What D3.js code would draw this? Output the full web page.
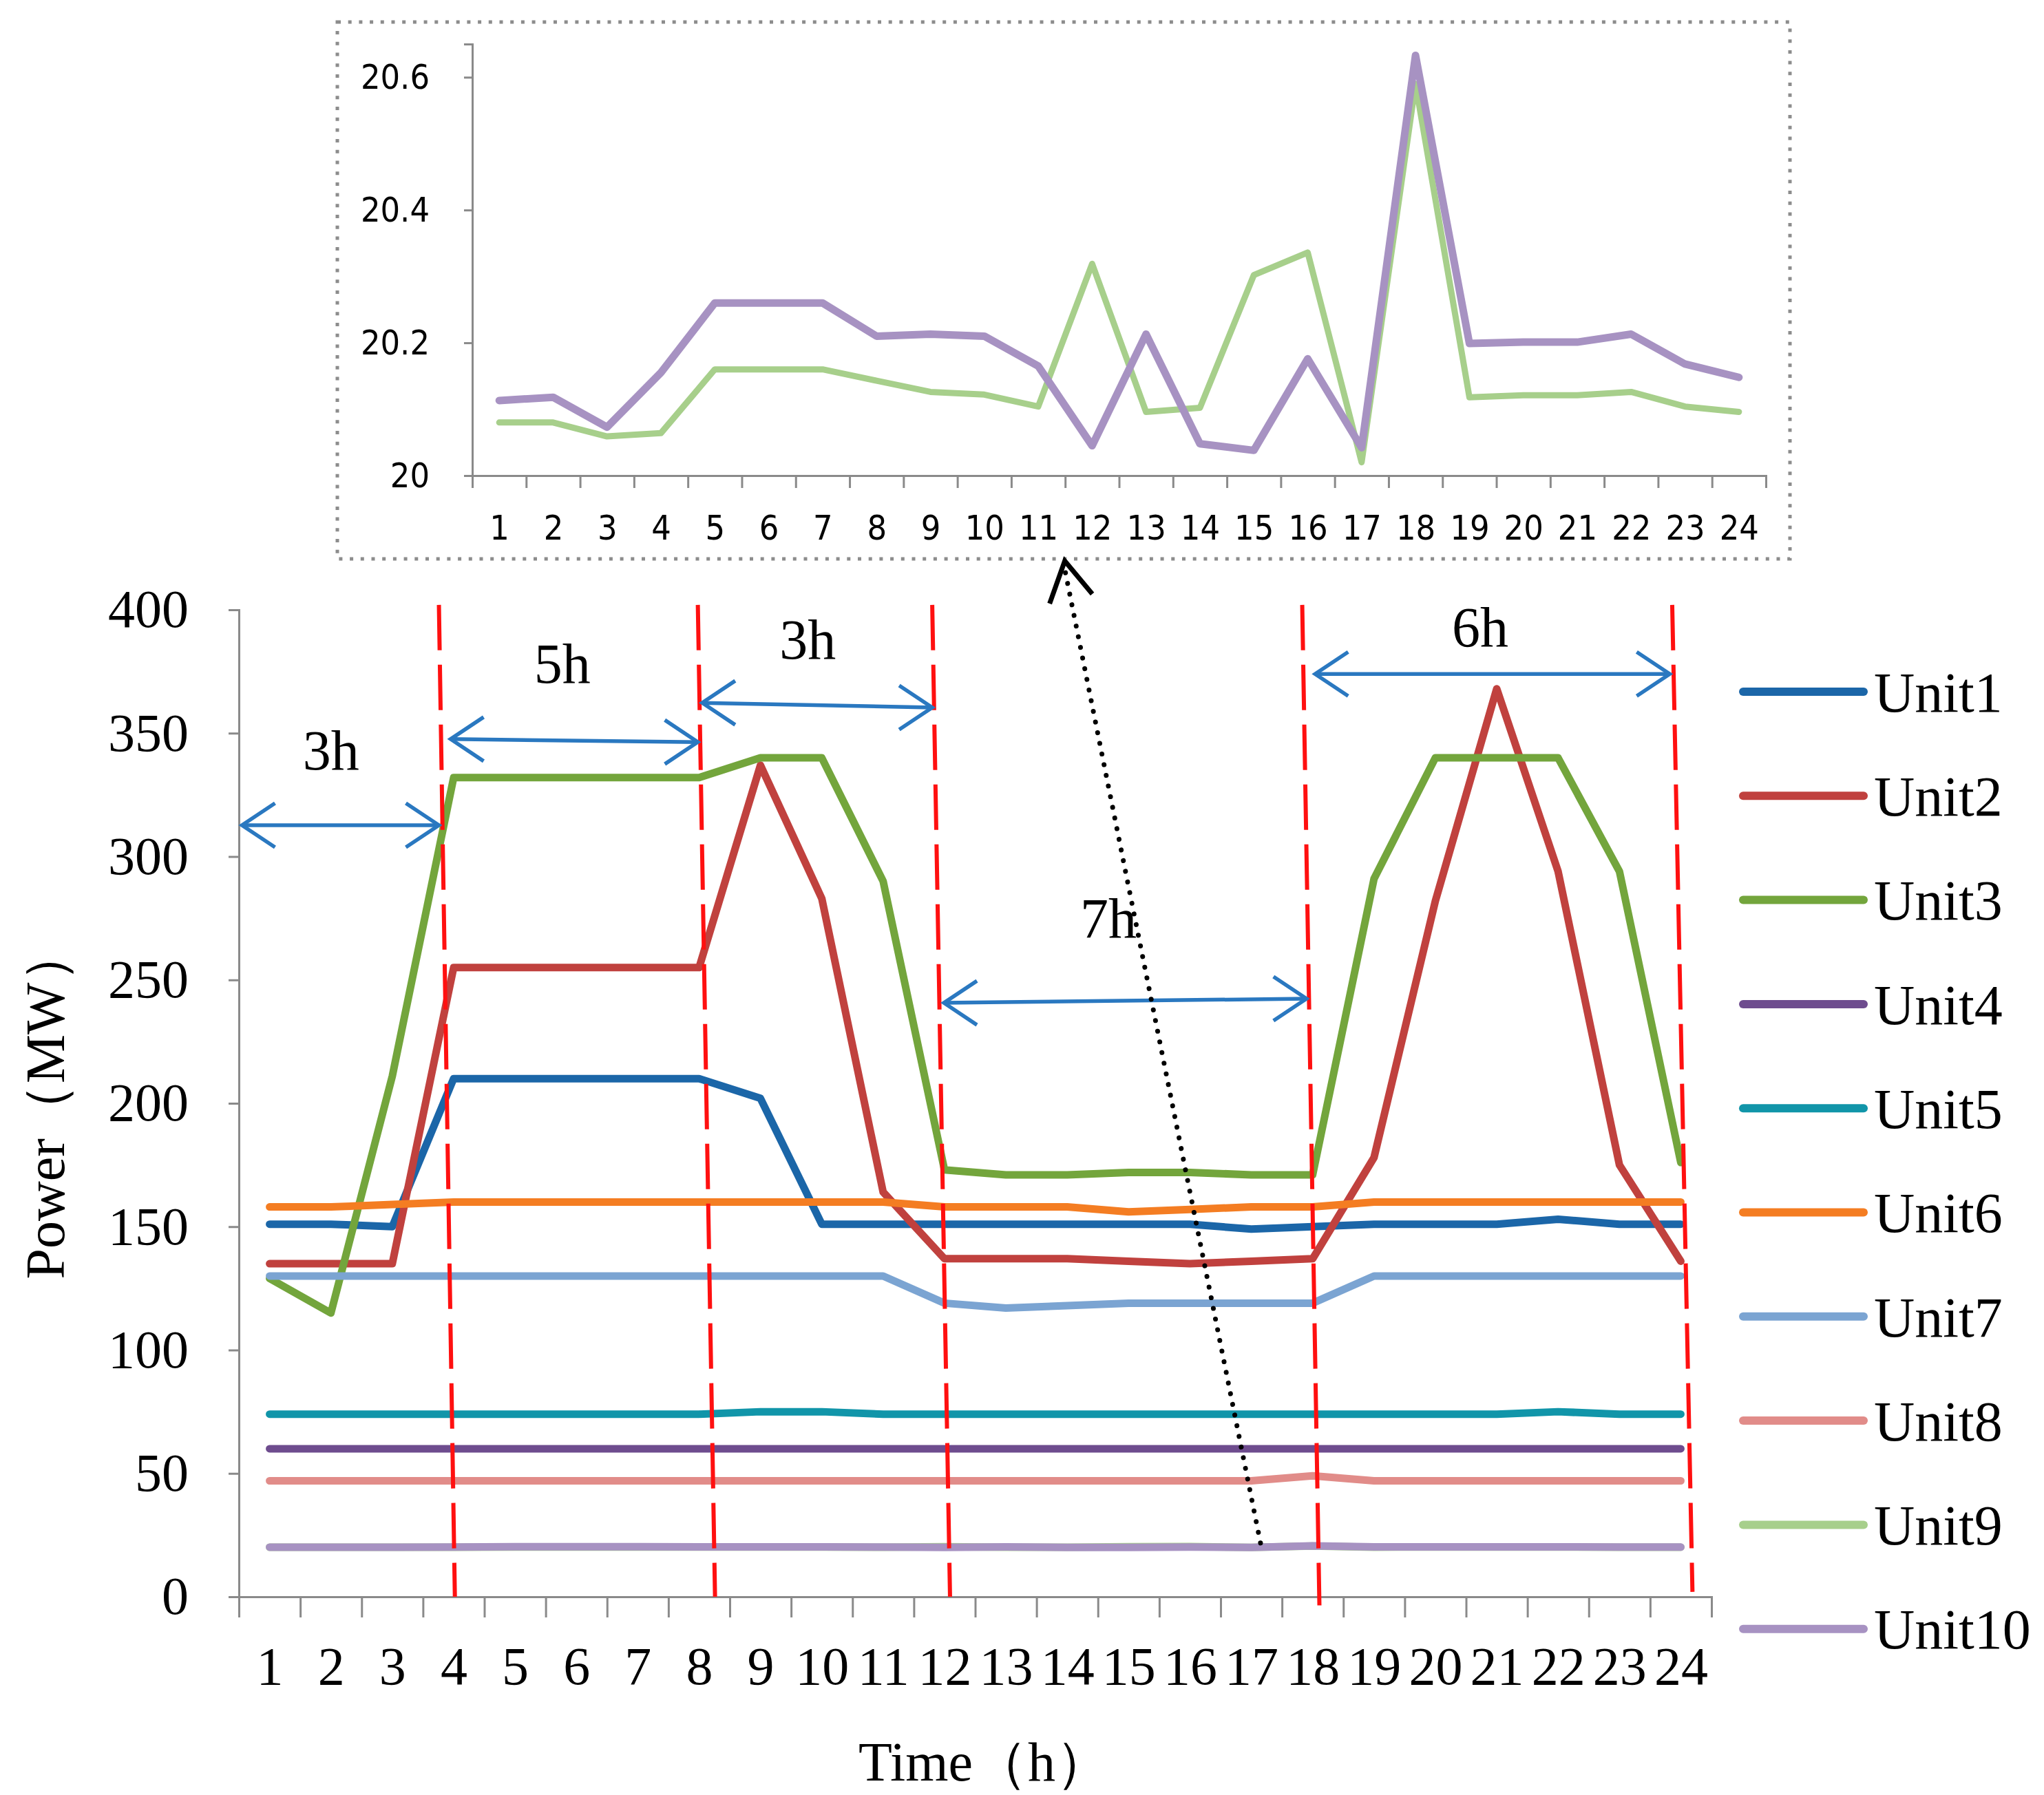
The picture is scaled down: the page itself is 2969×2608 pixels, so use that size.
<!DOCTYPE html>
<html>
<head>
<meta charset="utf-8">
<script src="https://cdn.jsdelivr.net/npm/d3@7/dist/d3.min.js"></script>
<style>
  html, body { margin: 0; padding: 0; background: #fff; }
  svg { display: block; }
</style>
</head>
<body>
<svg id="chart" width="2969" height="2608"></svg>
<script>
// hours on the x axis
var hours = [1,2,3,4,5,6,7,8,9,10,11,12,13,14,15,16,17,18,19,20,21,22,23,24];

// unit outputs in MW
var unit1 = [151,151,150,210,210,210,210,210,202,151,151,151,151,151,151,151,149,150,151,151,151,153,151,151];
var unit2 = [135,135,135,255,255,255,255,255,337,283,164,137,137,137,136,135,136,137,178,282,368,294,175,136];
var unit3 = [129,115,211,332,332,332,332,332,340,340,290,173,171,171,172,172,171,171,291,340,340,340,294,176];
var unit4 = [60,60,60,60,60,60,60,60,60,60,60,60,60,60,60,60,60,60,60,60,60,60,60,60];
var unit5 = [74,74,74,74,74,74,74,74,75,75,74,74,74,74,74,74,74,74,74,74,74,75,74,74];
var unit6 = [158,158,159,160,160,160,160,160,160,160,160,158,158,158,156,157,158,158,160,160,160,160,160,160];
var unit7 = [130,130,130,130,130,130,130,130,130,130,130,119,117,118,119,119,119,119,130,130,130,130,130,130];
var unit8 = [47,47,47,47,47,47,47,47,47,47,47,47,47,47,47,47,47,49,47,47,47,47,47,47];
var unit9 = [20.080,20.080,20.059,20.064,20.160,20.160,20.160,20.143,20.126,20.122,20.104,20.319,20.096,20.102,20.302,20.336,20.020,20.590,20.118,20.121,20.121,20.126,20.104,20.096];
var unit10 = [20.113,20.118,20.073,20.155,20.260,20.260,20.260,20.210,20.213,20.210,20.165,20.045,20.213,20.048,20.038,20.176,20.042,20.633,20.199,20.201,20.201,20.213,20.168,20.148];

var unitNames = ["Unit1","Unit2","Unit3","Unit4","Unit5","Unit6","Unit7","Unit8","Unit9","Unit10"];
var unitColors = ["#1b66a8","#c0413e","#73a53c","#6e4c8e","#1195a9","#f47d22","#7ba4d2","#e18c89","#a7cf8b","#a792c2"];
var powerTicks = [0,50,100,150,200,250,300,350,400];
var insetTicks = [20,20.2,20.4,20.6];

// red dashed boundaries (hour at top, hour at bottom, MW at bottom)
var cuts = [[3.76,4.02,0],[7.98,8.26,0],[11.80,12.09,0],[17.83,18.11,-3.5],[23.86,24.19,2]];
// duration arrows: from hour, to hour, MW at start, MW at end, label, label hour, label MW
var spans = [
  [0.55,3.76,312.7,312.7,"3h",2.0,343],
  [3.95,7.98,347.6,346.4,"5h",5.77,378],
  [8.05,11.80,362.3,360.4,"3h",9.77,388],
  [11.99,17.90,240.7,242.4,"7h",14.67,275],
  [18.04,23.82,374,374,"6h",20.73,393]
];

var series = [unit1,unit2,unit3,unit4,unit5,unit6,unit7,unit8,unit9,unit10];

var svg = d3.select("#chart");
svg.append("rect").attr("width",2969).attr("height",2608).attr("fill","#fff");

var serif = "'Liberation Serif','Times New Roman',serif";
var narrow = "'Liberation Sans Narrow','Arial Narrow','DejaVu Sans Condensed',sans-serif";
var axisGray = "#8a8a8a";

// ---------- main chart ----------
var x = d3.scaleLinear().domain([0.5,24.5]).range([347,2486]);
var y = d3.scaleLinear().domain([0,400]).range([2320,886]);

var line = d3.line()
  .x(function(d,i) { return x(hours[i]); })
  .y(function(d) { return y(d); });

// y axis
var yAxis = svg.append("g")
  .attr("transform","translate(" + x(0.5) + ",0)")
  .call(d3.axisLeft(y).tickValues(powerTicks).tickSize(15).tickPadding(58));
yAxis.selectAll("text").attr("font-family",serif).attr("font-size",78).attr("fill","#000");

// x axis: tick marks between hours, labels on hours
var xTickMarks = d3.range(0.5,25,1);
var xAxisTicks = svg.append("g")
  .attr("transform","translate(0," + y(0) + ")")
  .call(d3.axisBottom(x).tickValues(xTickMarks).tickSize(30).tickFormat(""));
var xAxisLabels = svg.append("g")
  .attr("transform","translate(0," + y(0) + ")")
  .call(d3.axisBottom(x).tickValues(hours).tickSize(0).tickPadding(72).tickFormat(d3.format("d")));
xAxisLabels.select(".domain").remove();
xAxisLabels.selectAll("text").attr("font-family",serif).attr("font-size",78).attr("fill","#000");

[yAxis, xAxisTicks].forEach(function(g) {
  g.selectAll(".domain").attr("stroke",axisGray).attr("stroke-width",3);
  g.selectAll(".tick line").attr("stroke",axisGray).attr("stroke-width",3);
});

// axis titles
svg.append("text")
  .attr("transform","translate(66,1603) rotate(-90)")
  .attr("text-anchor","middle").attr("dominant-baseline","central")
  .attr("font-family",serif).attr("font-size",80)
  .text("Power（MW）");
svg.append("text")
  .attr("x",1430).attr("y",2560)
  .attr("text-anchor","middle").attr("dominant-baseline","central")
  .attr("font-family",serif).attr("font-size",80)
  .text("Time（h）");

// series lines
svg.append("g").selectAll("path")
  .data(series)
  .enter().append("path")
  .attr("d", line)
  .attr("fill","none")
  .attr("stroke", function(d,i) { return unitColors[i]; })
  .attr("stroke-width",11)
  .attr("stroke-linejoin","round")
  .attr("stroke-linecap","round");

// red dashed boundaries
svg.append("g").selectAll("line")
  .data(cuts)
  .enter().append("line")
  .attr("x1", function(d) { return x(d[0]); })
  .attr("y1", y(402))
  .attr("x2", function(d) { return x(d[1]); })
  .attr("y2", function(d) { return y(d[2]); })
  .attr("stroke","#ff1010")
  .attr("stroke-width",6)
  .attr("stroke-dasharray","66 21");

// duration arrows
var arrowBlue = "#2a78c0";
var spanG = svg.append("g").selectAll("g").data(spans).enter().append("g");
spanG.append("line")
  .attr("x1", function(d) { return x(d[0]); })
  .attr("y1", function(d) { return y(d[2]); })
  .attr("x2", function(d) { return x(d[1]); })
  .attr("y2", function(d) { return y(d[3]); })
  .attr("stroke",arrowBlue).attr("stroke-width",5.5);
spanG.append("path")
  .attr("d", function(d) {
    var x1 = x(d[0]), y1 = y(d[2]), x2 = x(d[1]), y2 = y(d[3]);
    return "M" + (x1+48) + "," + (y1-32) + "L" + x1 + "," + y1 + "L" + (x1+48) + "," + (y1+32) +
           "M" + (x2-48) + "," + (y2-32) + "L" + x2 + "," + y2 + "L" + (x2-48) + "," + (y2+32);
  })
  .attr("fill","none").attr("stroke",arrowBlue).attr("stroke-width",5.5);
spanG.append("text")
  .attr("x", function(d) { return x(d[5]); })
  .attr("y", function(d) { return y(d[6]); })
  .attr("text-anchor","middle").attr("dominant-baseline","central")
  .attr("font-family",serif).attr("font-size",82)
  .text(function(d) { return d[4]; });

// legend
var legend = svg.append("g").selectAll("g")
  .data(unitNames)
  .enter().append("g")
  .attr("transform", function(d,i) { return "translate(2532," + (1005 + i*151.3) + ")"; });
legend.append("line")
  .attr("x1",0).attr("x2",175)
  .attr("stroke", function(d,i) { return unitColors[i]; })
  .attr("stroke-width",12).attr("stroke-linecap","round");
legend.append("text")
  .attr("x",190).attr("dy","0.35em")
  .attr("font-family",serif).attr("font-size",82)
  .text(function(d) { return d; });

// ---------- inset of Unit9 / Unit10 ----------
svg.append("rect")
  .attr("x",490).attr("y",32).attr("width",2110).attr("height",780)
  .attr("fill","none").attr("stroke","#8c8c8c").attr("stroke-width",5)
  .attr("stroke-dasharray","5 10.7");

var xi = d3.scaleLinear().domain([0.5,24.5]).range([686,2565]);
var yi = d3.scaleLinear().domain([20,20.65]).range([691,64]);

var yiAxis = svg.append("g")
  .attr("transform","translate(" + xi(0.5) + ",0)")
  .call(d3.axisLeft(yi).tickValues(insetTicks).tickSize(12).tickPadding(50).tickFormat(function(d) { return +d.toFixed(1); }));
var xiTicks = svg.append("g")
  .attr("transform","translate(0," + yi(20) + ")")
  .call(d3.axisBottom(xi).tickValues(xTickMarks).tickSize(18).tickFormat(""));
var xiLabels = svg.append("g")
  .attr("transform","translate(0," + yi(20) + ")")
  .call(d3.axisBottom(xi).tickValues(hours).tickSize(0).tickPadding(57).tickFormat(d3.format("d")));
xiLabels.select(".domain").remove();
[yiAxis, xiTicks].forEach(function(g) {
  g.selectAll(".domain").attr("stroke",axisGray).attr("stroke-width",3);
  g.selectAll(".tick line").attr("stroke",axisGray).attr("stroke-width",3);
});
[yiAxis, xiLabels].forEach(function(g) {
  g.selectAll("text").attr("font-family",narrow).attr("font-size",50).attr("fill","#000");
});

var lineInset = d3.line()
  .x(function(d,i) { return xi(hours[i]); })
  .y(function(d) { return yi(d); });
svg.append("path").attr("d", lineInset(unit9))
  .attr("fill","none").attr("stroke",unitColors[8]).attr("stroke-width",9)
  .attr("stroke-linejoin","round").attr("stroke-linecap","round");
svg.append("path").attr("d", lineInset(unit10))
  .attr("fill","none").attr("stroke",unitColors[9]).attr("stroke-width",11)
  .attr("stroke-linejoin","round").attr("stroke-linecap","round");

// dotted pointer from Unit10 up to the inset
var tip = [x(13.96), y(419.8)];
svg.append("line")
  .attr("x1", x(17.15)).attr("y1", y(21.8))
  .attr("x2", tip[0]).attr("y2", tip[1] + 12)
  .attr("stroke","#000").attr("stroke-width",7)
  .attr("stroke-linecap","round").attr("stroke-dasharray","0.1 15.7");
svg.append("path")
  .attr("d","M" + (tip[0]-22) + "," + (tip[1]+62) + "L" + tip[0] + "," + tip[1] + "L" + (tip[0]+40) + "," + (tip[1]+48))
  .attr("fill","none").attr("stroke","#000").attr("stroke-width",7);
</script>
</body>
</html>
